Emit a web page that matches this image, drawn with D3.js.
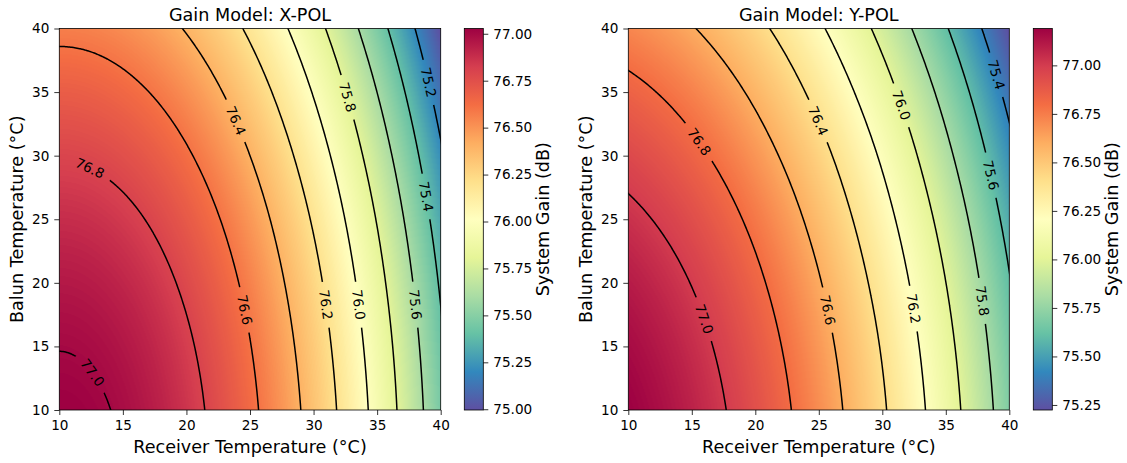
<!DOCTYPE html>
<html>
<head>
<meta charset="utf-8">
<script src="https://cdn.jsdelivr.net/npm/d3@7"></script>
<style>
  body { margin: 0; background: #fff; }
  text { font-family: "DejaVu Sans", sans-serif; fill: #000; }
</style>
</head>
<body>
<svg id="chart" width="1127" height="463"></svg>
<script>
// grid nodes (deg C) and gain, rows = balun temp, cols = receiver temp
const receiverTemps = [10, 15, 20, 25, 30, 35, 40];
const balunTemps = [10, 15, 20, 25, 30, 35, 40];
const gainX = [
  [77.028, 76.985, 76.854, 76.636, 76.332, 75.940, 75.461],
  [76.997, 76.953, 76.823, 76.605, 76.300, 75.909, 75.430],
  [76.947, 76.903, 76.773, 76.555, 76.250, 75.859, 75.380],
  [76.879, 76.835, 76.705, 76.487, 76.182, 75.791, 75.312],
  [76.792, 76.748, 76.618, 76.400, 76.095, 75.704, 75.225],
  [76.687, 76.643, 76.513, 76.295, 75.990, 75.599, 75.120],
  [76.563, 76.520, 76.389, 76.171, 75.867, 75.475, 74.996]
];
const gainY = [
  [77.190, 77.082, 76.918, 76.698, 76.421, 76.087, 75.697],
  [77.155, 77.048, 76.884, 76.664, 76.387, 76.053, 75.663],
  [77.103, 76.996, 76.832, 76.611, 76.334, 76.001, 75.611],
  [77.033, 76.926, 76.762, 76.541, 76.264, 75.931, 75.541],
  [76.946, 76.838, 76.674, 76.454, 76.177, 75.843, 75.453],
  [76.840, 76.733, 76.569, 76.348, 76.071, 75.738, 75.348],
  [76.717, 76.609, 76.445, 76.225, 75.948, 75.614, 75.224]
];
const levelsX = [75.2, 75.4, 75.6, 75.8, 76.0, 76.2, 76.4, 76.6, 76.8, 77.0];
const levelsY = [75.4, 75.6, 75.8, 76.0, 76.2, 76.4, 76.6, 76.8, 77.0];
const tempTicks = [10, 15, 20, 25, 30, 35, 40];
const cbarTicksX = [75.00, 75.25, 75.50, 75.75, 76.00, 76.25, 76.50, 76.75, 77.00];
const cbarTicksY = [75.25, 75.50, 75.75, 76.00, 76.25, 76.50, 76.75, 77.00];
const titles = ["Gain Model: X-POL", "Gain Model: Y-POL"];

// rough label spots [level, Tr, Tb], snapped onto the line later
const labelSpotsX = [[77.0, 12.7, 13.0], [76.8, 12.4, 29.0], [76.6, 24.7, 17.9], [76.4, 24.0, 32.8],
  [76.2, 31.1, 18.3], [76.0, 33.7, 18.3], [75.8, 32.7, 34.6], [75.6, 38.1, 18.3],
  [75.4, 38.9, 26.8], [75.2, 39.2, 35.8]];
const labelSpotsY = [[77.0, 16.1, 17.2], [76.8, 15.6, 31.1], [76.6, 25.9, 17.9], [76.4, 25.1, 32.8],
  [76.2, 32.6, 18.0], [76.0, 31.6, 34.0], [75.8, 38.0, 18.6], [75.6, 38.7, 28.5],
  [75.4, 39.1, 36.4]];

const spectral = ["#9e0142", "#d53e4f", "#f46d43", "#fdae61", "#fee08b", "#ffffbf",
  "#e6f598", "#abdda4", "#66c2a5", "#3288bd", "#5e4fa2"];
const cmapColors = spectral.slice().reverse();
const cmap = d3.scaleLinear().domain(d3.range(11).map(i => i / 10)).range(cmapColors)
  .interpolate(d3.interpolateRgb).clamp(true);
const lut = d3.range(256).map(i => { const c = d3.rgb(cmap(i / 255)); return [c.r, c.g, c.b]; });

const svg = d3.select("#chart");
const defs = svg.append("defs");
const plotTop = 28.5, plotBottom = 410;
const tickFont = 13.6, bigFont = 17.6;

const panels = [
  {left: 59.3, right: 440.7, cbar: 464.3, gain: gainX, levels: levelsX, ticks: cbarTicksX, spots: labelSpotsX, title: titles[0]},
  {left: 628.3, right: 1009.3, cbar: 1033.3, gain: gainY, levels: levelsY, ticks: cbarTicksY, spots: labelSpotsY, title: titles[1]}
];

// catmull-rom with quadratic end padding, keeps the smooth shape of the grid
function cr(p0, p1, p2, p3, t) {
  return 0.5 * (2 * p1 + (-p0 + p2) * t + (2 * p0 - 5 * p1 + 4 * p2 - p3) * t * t
    + (-p0 + 3 * p1 - 3 * p2 + p3) * t * t * t);
}
function padRow(r) {
  const n = r.length;
  return [3 * r[0] - 3 * r[1] + r[2]].concat(r, [3 * r[n - 1] - 3 * r[n - 2] + r[n - 3]]);
}
function makeSurface(grid) {
  let rows = grid.map(padRow);
  const n = rows.length;
  const first = rows[0].map((v, i) => 3 * v - 3 * rows[1][i] + rows[2][i]);
  const last = rows[n - 1].map((v, i) => 3 * v - 3 * rows[n - 2][i] + rows[n - 3][i]);
  rows = [first].concat(rows, [last]);
  const dx = receiverTemps[1] - receiverTemps[0], dy = balunTemps[1] - balunTemps[0];
  const m = receiverTemps.length, k = balunTemps.length;
  return function(tr, tb) {
    const fx = (tr - receiverTemps[0]) / dx, fy = (tb - balunTemps[0]) / dy;
    const i = Math.max(0, Math.min(m - 2, Math.floor(fx))), j = Math.max(0, Math.min(k - 2, Math.floor(fy)));
    const tx = fx - i, ty = fy - j;
    const col = [];
    for (let q = 0; q < 4; q++) {
      const r = rows[j + q];
      col.push(cr(r[i], r[i + 1], r[i + 2], r[i + 3], tx));
    }
    return cr(col[0], col[1], col[2], col[3], ty);
  };
}

function snap(surf, level, tr, tb) {
  for (let k = 0; k < 25; k++) {
    const v = surf(tr, tb) - level;
    const gx = (surf(tr + 1e-3, tb) - surf(tr - 1e-3, tb)) / 2e-3;
    const gy = (surf(tr, tb + 1e-3) - surf(tr, tb - 1e-3)) / 2e-3;
    const g2 = gx * gx + gy * gy;
    tr -= v * gx / g2; tb -= v * gy / g2;
  }
  return [tr, tb];
}

panels.forEach((p, idx) => {
  const x = d3.scaleLinear().domain([10, 40]).range([p.left, p.right]);
  const y = d3.scaleLinear().domain([10, 40]).range([plotBottom, plotTop]);
  const surf = makeSurface(p.gain);
  const flat = p.gain.flat();
  const vmin = d3.min(flat), vmax = d3.max(flat);
  const pw = p.right - p.left, ph = plotBottom - plotTop;

  // heat image
  const w = Math.round(pw), h = Math.round(ph);
  const canvas = document.createElement("canvas");
  canvas.width = w; canvas.height = h;
  const ctx = canvas.getContext("2d");
  const img = ctx.createImageData(w, h);
  for (let j = 0; j < h; j++) {
    const tb = y.invert(plotTop + (j + 0.5) * ph / h);
    for (let i = 0; i < w; i++) {
      const tr = x.invert(p.left + (i + 0.5) * pw / w);
      const v = surf(tr, tb);
      const c = lut[Math.max(0, Math.min(255, Math.floor((v - vmin) / (vmax - vmin) * 256)))];
      const o = (j * w + i) * 4;
      img.data[o] = c[0]; img.data[o + 1] = c[1]; img.data[o + 2] = c[2]; img.data[o + 3] = 255;
    }
  }
  ctx.putImageData(img, 0, 0);
  svg.append("image").attr("href", canvas.toDataURL())
    .attr("x", p.left).attr("y", plotTop).attr("width", pw).attr("height", ph)
    .attr("preserveAspectRatio", "none");

  // contour lines
  const start = 9.5, step = 0.1, n = 311;
  const values = new Float64Array(n * n);
  for (let j = 0; j < n; j++)
    for (let i = 0; i < n; i++) values[j * n + i] = surf(start + i * step, start + j * step);
  const contours = d3.contours().size([n, n]).thresholds(p.levels)(values);
  const proj = d3.geoTransform({
    point: function(px, py) { this.stream.point(x(start + (px - 0.5) * step), y(start + (py - 0.5) * step)); }
  });
  const path = d3.geoPath(proj);

  defs.append("clipPath").attr("id", "clip" + idx).append("rect")
    .attr("x", p.left).attr("y", plotTop).attr("width", pw).attr("height", ph);
  const mask = defs.append("mask").attr("id", "mask" + idx).attr("maskUnits", "userSpaceOnUse")
    .attr("x", 0).attr("y", 0).attr("width", 1127).attr("height", 463);
  mask.append("rect").attr("width", 1127).attr("height", 463).attr("fill", "#fff");

  svg.append("g").attr("clip-path", `url(#clip${idx})`)
    .append("g").attr("mask", `url(#mask${idx})`)
    .selectAll("path").data(contours).join("path")
    .attr("d", path).attr("fill", "none").attr("stroke", "#000").attr("stroke-width", 1.5);

  // inline labels
  const kx = pw / 30, ky = ph / 30;
  p.spots.forEach(s => {
    const [tr, tb] = snap(surf, s[0], s[1], s[2]);
    const gx = (surf(tr + 1e-3, tb) - surf(tr - 1e-3, tb)) / 2e-3 / kx;
    const gy = -(surf(tr, tb + 1e-3) - surf(tr, tb - 1e-3)) / 2e-3 / ky;
    let ang = Math.atan2(gx, -gy) * 180 / Math.PI;
    if (ang > 90) ang -= 180;
    if (ang < -90) ang += 180;
    const cx = x(tr), cy = y(tb);
    const t = svg.append("text").attr("transform", `translate(${cx},${cy}) rotate(${ang})`)
      .attr("text-anchor", "middle").attr("dy", "0.36em").attr("font-size", tickFont)
      .text(d3.format(".1f")(s[0]));
    const tw = t.node().getComputedTextLength() + 16;
    // if the break nearly reaches the frame, matplotlib drops the stub too
    let left = -tw / 2, width = tw;
    const reachLeft = cx - (tw / 2 + 14) * Math.cos(ang * Math.PI / 180);
    if (reachLeft < p.left) { left -= 14; width += 14; }
    mask.append("rect").attr("x", left).attr("y", -8).attr("width", width).attr("height", 16)
      .attr("fill", "#000").attr("transform", `translate(${cx},${cy}) rotate(${ang})`);
  });

  // frame and axes
  svg.append("rect").attr("x", p.left).attr("y", plotTop).attr("width", pw).attr("height", ph)
    .attr("fill", "none").attr("stroke", "#000").attr("stroke-width", 0.8);
  const xa = svg.append("g").attr("transform", `translate(0,${plotBottom})`)
    .call(d3.axisBottom(x).tickValues(tempTicks).tickSize(5).tickPadding(5.5));
  const ya = svg.append("g").attr("transform", `translate(${p.left},0)`)
    .call(d3.axisLeft(y).tickValues(tempTicks).tickSize(5).tickPadding(5));
  [xa, ya].forEach(a => {
    a.select(".domain").remove();
    a.selectAll("line").attr("stroke", "#000").attr("stroke-width", 0.8);
    a.selectAll("text").attr("font-size", tickFont).attr("font-family", "DejaVu Sans").attr("fill", "#000");
  });

  const midX = (p.left + p.right) / 2, midY = (plotTop + plotBottom) / 2;
  svg.append("text").attr("x", midX).attr("y", 21).attr("text-anchor", "middle")
    .attr("font-size", bigFont).text(p.title);
  svg.append("text").attr("x", midX).attr("y", 453).attr("text-anchor", "middle")
    .attr("font-size", bigFont).text("Receiver Temperature (°C)");
  svg.append("text").attr("transform", `translate(${p.left - 36},${midY}) rotate(-90)`)
    .attr("text-anchor", "middle").attr("font-size", bigFont).text("Balun Temperature (°C)");

  // colorbar
  const cw = 19;
  const grad = defs.append("linearGradient").attr("id", "grad" + idx)
    .attr("x1", 0).attr("y1", 1).attr("x2", 0).attr("y2", 0);
  cmapColors.forEach((c, i) => grad.append("stop").attr("offset", i / 10).attr("stop-color", c));
  svg.append("rect").attr("x", p.cbar).attr("y", plotTop).attr("width", cw).attr("height", ph)
    .attr("fill", `url(#grad${idx})`).attr("stroke", "#000").attr("stroke-width", 0.8);
  const cs = d3.scaleLinear().domain([vmin, vmax]).range([plotBottom, plotTop]);
  const ca = svg.append("g").attr("transform", `translate(${p.cbar + cw},0)`)
    .call(d3.axisRight(cs).tickValues(p.ticks).tickFormat(d3.format(".2f")).tickSize(5).tickPadding(5));
  ca.select(".domain").remove();
  ca.selectAll("line").attr("stroke", "#000").attr("stroke-width", 0.8);
  ca.selectAll("text").attr("font-size", tickFont).attr("font-family", "DejaVu Sans").attr("fill", "#000");
  svg.append("text").attr("transform", `translate(${p.cbar + cw + 65.5},${midY}) rotate(-90)`)
    .attr("text-anchor", "middle").attr("font-size", bigFont).text("System Gain (dB)");
});
</script>
</body>
</html>
